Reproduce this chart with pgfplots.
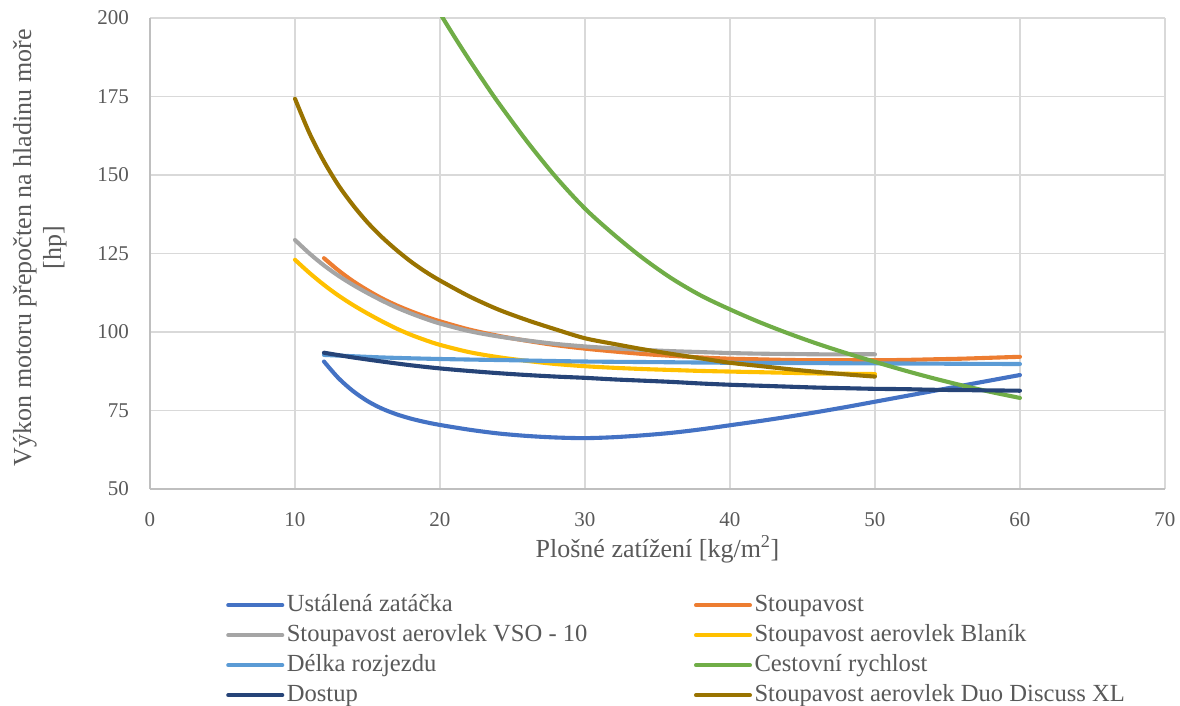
\documentclass[border=0pt]{standalone}
\usepackage{fontspec}
\setmainfont{Liberation Serif}
\usepackage{pgfplots}
\pgfplotsset{compat=1.18}
\definecolor{cBlue}{HTML}{4472C4}
\definecolor{cOrange}{HTML}{ED7D31}
\definecolor{cGray}{HTML}{A5A5A5}
\definecolor{cGold}{HTML}{FFC000}
\definecolor{cLBlue}{HTML}{5B9BD5}
\definecolor{cGreen}{HTML}{70AD47}
\definecolor{cNavy}{HTML}{264478}
\definecolor{cOlive}{HTML}{997300}
\definecolor{cGrid}{HTML}{D9D9D9}
\definecolor{cAxis}{HTML}{BFBFBF}
\definecolor{cText}{HTML}{595959}
\begin{document}
\begin{tikzpicture}
\useasboundingbox (-150pt,-217pt) rectangle (1030pt,489pt);
\begin{axis}[
  at={(0pt,0pt)}, anchor=south west,
  scale only axis, width=1015pt, height=471pt,
  xmin=0, xmax=70, ymin=50, ymax=200,
  xtick={0,10,...,70}, ytick={50,75,...,200},
  grid=major,
  grid style={cGrid, line width=1.3pt},
  axis lines*=left,
  axis line style={cAxis, line width=1.3pt},
  major tick length=0pt,
  /pgf/number format/assume math mode=true,
  tick label style={font=\fontsize{21}{25}\selectfont, text=cText},
  xticklabel style={anchor=base, inner sep=0pt, yshift=-37pt},
  yticklabel style={anchor=east, inner sep=0pt, xshift=-21pt},
  xlabel={Plošné zatížení [kg/m\textsuperscript{2}]},
  ylabel={Výkon motoru přepočten na hladinu moře\\{[hp]}},
  label style={font=\fontsize{26}{30}\selectfont, text=cText},
  xlabel style={at={(axis description cs:0.5,-0.1444)}, anchor=base, inner sep=0pt},
  ylabel style={at={(axis description cs:-0.0818,0.512)}, anchor=south, inner sep=0pt, align=center},
  legend columns=2,
  legend cell align=left,
  legend image code/.code={\draw[#1] (0pt,0pt) -- (54pt,0pt);},
  legend style={at={(axis description cs:0.0749,-0.2144)}, anchor=north west,
    draw=none, fill=none, inner sep=0pt,
    font=\fontsize{24.6}{29}\selectfont, text=cText,
    nodes={inner xsep=2.5pt, inner ysep=3pt, text height=18pt, text depth=6pt},
    /tikz/every even column/.append style={column sep=104pt}},
  every axis plot/.append style={line width=4.1pt, line cap=round, line join=round, smooth, no markers},
  clip=true,
]
\addplot[cBlue] coordinates {(12,90.6) (13,85.3) (14,81.2) (15,78.0) (16,75.6) (17,73.8) (18,72.4) (19,71.3) (20,70.4) (22,68.9) (24,67.7) (26,66.9) (28,66.4) (30,66.2) (32,66.5) (34,67.1) (36,67.9) (38,69.0) (40,70.3) (42,71.6) (44,73.0) (46,74.5) (48,76.1) (50,77.8) (52,79.5) (54,81.2) (56,82.9) (58,84.6) (60,86.3)};
\addlegendentry{Ustálená zatáčka}
\addplot[cOrange] coordinates {(12,123.5) (13,119.6) (14,116.2) (15,113.3) (16,110.7) (17,108.5) (18,106.6) (19,104.9) (20,103.4) (22,100.8) (24,98.8) (26,97.2) (28,95.8) (30,94.7) (32,93.8) (34,93.0) (36,92.4) (38,91.9) (40,91.5) (42,91.3) (44,91.1) (46,91.0) (48,91.0) (50,91.0) (52,91.1) (54,91.3) (56,91.5) (58,91.8) (60,92.1)};
\addlegendentry{Stoupavost}
\addplot[cGray] coordinates {(10,129.3) (11,125.0) (12,121.2) (13,117.9) (14,115.0) (15,112.4) (16,110.0) (17,107.8) (18,105.9) (19,104.2) (20,102.7) (22,100.3) (24,98.6) (26,97.3) (28,96.2) (30,95.4) (32,94.8) (34,94.3) (36,93.9) (38,93.6) (40,93.3) (42,93.1) (44,93.0) (46,92.9) (48,92.9) (50,92.9)};
\addlegendentry{Stoupavost aerovlek VSO - 10}
\addplot[cGold] coordinates {(10,123.0) (11,118.8) (12,115.0) (13,111.6) (14,108.6) (15,105.9) (16,103.4) (17,101.1) (18,99.1) (19,97.4) (20,95.9) (22,93.6) (24,92.0) (26,90.8) (28,89.8) (30,89.1) (32,88.6) (34,88.2) (36,87.9) (38,87.6) (40,87.4) (42,87.2) (44,87.0) (46,86.8) (48,86.7) (50,86.6)};
\addlegendentry{Stoupavost aerovlek Blaník}
\addplot[cLBlue] coordinates {(12,92.7) (16,91.9) (20,91.4) (25,91.0) (30,90.6) (35,90.4) (40,90.2) (45,90.1) (50,90.0) (55,89.9) (60,89.8)};
\addlegendentry{Délka rozjezdu}
\addplot[cGreen] coordinates {(19,209.5) (20,201.5) (21,194.0) (22,186.8) (23,179.9) (24,173.2) (26,160.7) (28,149.3) (30,139.3) (32,131.0) (34,123.5) (36,117.0) (38,111.6) (40,107.2) (42,103.2) (44,99.6) (46,96.3) (48,93.3) (50,90.5) (52,87.8) (54,85.3) (56,83.0) (58,80.9) (60,79.0)};
\addlegendentry{Cestovní rychlost}
\addplot[cNavy] coordinates {(12,93.4) (14,91.9) (16,90.6) (18,89.4) (20,88.4) (22,87.6) (24,86.9) (26,86.3) (28,85.8) (30,85.4) (32,84.9) (34,84.5) (36,84.1) (38,83.6) (40,83.2) (42,82.9) (44,82.6) (46,82.3) (48,82.1) (50,81.9) (52,81.8) (54,81.6) (56,81.5) (58,81.4) (60,81.3)};
\addlegendentry{Dostup}
\addplot[cOlive] coordinates {(10,174.3) (11,163.3) (12,154.3) (13,146.7) (14,140.4) (15,134.9) (16,130.2) (17,126.1) (18,122.4) (19,119.2) (20,116.4) (22,111.4) (24,107.2) (26,103.8) (28,100.8) (30,98.0) (32,96.2) (34,94.5) (36,93.0) (38,91.6) (40,90.2) (42,89.2) (44,88.2) (46,87.3) (48,86.5) (50,85.8)};
\addlegendentry{Stoupavost aerovlek Duo Discuss XL}
\end{axis}
\end{tikzpicture}
\end{document}
